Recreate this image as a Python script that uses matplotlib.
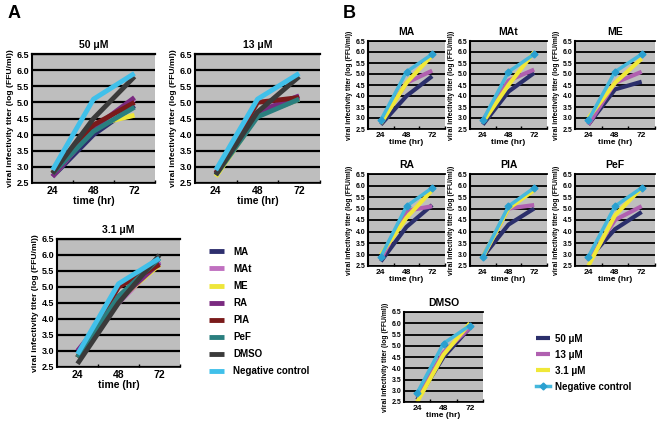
import numpy as np
import matplotlib.pyplot as plt
from matplotlib.ticker import FixedLocator

plt.rcParams['font.family'] = ['Liberation Sans', 'DejaVu Sans']
plt.rcParams['font.weight'] = 'bold'
plt.rcParams['axes.labelweight'] = 'bold'

times = ['24', '48', '72']
ylabel = 'viral infectivity titer (log (FFU/ml))'

# panel A: one chart per concentration, one line per compound
compounds = ['MA', 'MAt', 'ME', 'RA', 'PIA', 'PeF', 'DMSO', 'Negative control']
conc_titles = ['50 \u03bcM', '13 \u03bcM', '3.1 \u03bcM']
a_50 = [[2.7, 4.0, 4.9], [2.7, 4.2, 5.1], [2.8, 4.3, 4.6], [2.7, 4.2, 5.15],
        [2.8, 4.3, 5.0], [2.8, 4.1, 4.85], [2.8, 4.5, 5.8], [2.9, 5.1, 5.9]]
a_13 = [[2.8, 4.6, 5.1], [2.9, 4.7, 5.2], [2.7, 4.6, 5.1], [2.8, 4.7, 5.2],
        [2.8, 5.0, 5.15], [2.75, 4.55, 5.1], [2.75, 4.7, 5.8], [2.9, 5.1, 5.9]]
a_3 = [[2.8, 4.7, 5.8], [3.0, 4.5, 5.8], [2.8, 4.6, 5.7], [3.0, 4.6, 5.75],
       [2.8, 5.0, 5.7], [2.8, 4.7, 5.9], [2.6, 4.5, 6.0], [2.9, 5.1, 5.9]]
comp_colors = ['#2e2f6e', '#c070c0', '#eee63a', '#7a2a80', '#7a1a1a', '#2a7f7f', '#3a3a3a', '#40c0ea']

# panel B: one chart per compound, one line per concentration
b_titles = ['MA', 'MAt', 'ME', 'RA', 'PIA', 'PeF', 'DMSO']
b_series = ['50 \u03bcM', '13 \u03bcM', '3.1 \u03bcM', 'Negative control']
b_50 = [[2.7, 4.0, 4.9], [2.7, 4.2, 5.05], [2.7, 4.3, 4.65], [2.7, 4.2, 5.15],
        [2.9, 4.3, 5.0], [2.8, 4.1, 4.85], [2.6, 4.5, 5.8]]
b_13 = [[2.8, 4.6, 5.15], [2.9, 4.7, 5.2], [2.7, 4.6, 5.1], [2.8, 4.9, 5.1],
        [2.9, 5.0, 5.15], [2.7, 4.5, 5.1], [2.7, 4.7, 5.8]]
b_3 = [[2.75, 4.6, 5.85], [2.8, 4.5, 6.0], [3.0, 4.6, 5.7], [3.0, 4.6, 5.8],
       [2.9, 5.0, 5.8], [2.5, 4.7, 5.9], [2.5, 4.6, 6.0]]
b_neg = [2.9, 5.1, 5.9]
conc_colors = ['#2b2f6b', '#b060b0', '#f0e838', '#45b8dc']

W, H = 661, 421
fig = plt.figure(figsize=(W / 100, H / 100), dpi=100)


def px_axes(l, t, r, b):
    return fig.add_axes([l / W, 1 - b / H, (r - l) / W, (b - t) / H])


def style(ax, title, fs, yfs, tfs, lw_grid):
    ax.set_facecolor('#bebebe')
    ax.set_xlim(-0.5, 2.5)
    ax.set_ylim(2.5, 6.5)
    ax.set_yticks(np.arange(2.5, 6.51, 0.5))
    ax.set_yticklabels(['%.1f' % v for v in np.arange(2.5, 6.51, 0.5)], fontsize=fs)
    ax.set_xticks(range(3))
    ax.set_xticklabels(times, fontsize=fs + 1)
    ax.xaxis.set_minor_locator(FixedLocator([0.5, 1.5, 2.5]))
    ax.tick_params(axis='x', which='major', length=0, pad=2)
    ax.tick_params(axis='x', which='minor', length=2, width=1, direction='in')
    ax.tick_params(axis='y', length=0, pad=2)
    ax.grid(axis='y', color='black', lw=lw_grid)
    ax.set_axisbelow(True)
    ax.spines['right'].set_visible(False)
    ax.spines['top'].set_linewidth(lw_grid)
    ax.spines['left'].set_linewidth(1.5)
    ax.spines['bottom'].set_linewidth(1.2)
    ax.set_title(title, fontsize=tfs, fontweight='bold', pad=4)
    ax.set_xlabel('time (hr)', fontsize=fs + 1, labelpad=0)
    ax.set_ylabel(ylabel, fontsize=yfs, labelpad=2)


# panel A
a_pos = [(32, 54, 155, 183), (195, 54, 320, 183), (57, 239, 180, 367)]
lines_a = []
for pos, title, data in zip(a_pos, conc_titles, [a_50, a_13, a_3]):
    ax = px_axes(*pos)
    style(ax, title, 6.5, 6.1, 7.5, 1.6)
    lines_a = []
    for vals, c, name in zip(data, comp_colors, compounds):
        ln, = ax.plot(range(3), vals, color=c, lw=3.5, label=name, solid_capstyle='butt')
        lines_a.append(ln)
fig.legend(lines_a, compounds, loc='upper left', bbox_to_anchor=(200 / W, 1 - 238 / H),
           frameon=False, fontsize=7, labelspacing=0.73, handlelength=1.6, handletextpad=0.9)

# panel B
b_pos = [(368, 41, 445, 129), (470, 41, 547, 129), (575, 41, 655, 129),
         (368, 174, 445, 266), (470, 174, 547, 266), (575, 174, 655, 266),
         (404, 312, 483, 402)]
lines_b = []
for i, (pos, title) in enumerate(zip(b_pos, b_titles)):
    ax = px_axes(*pos)
    style(ax, title, 5, 4.9, 7.5, 1.3)
    lines_b = []
    for vals, c in zip([b_50[i], b_13[i], b_3[i]], conc_colors[:3]):
        ln, = ax.plot(range(3), vals, color=c, lw=3, solid_capstyle='butt')
        lines_b.append(ln)
    ln, = ax.plot(range(3), b_neg, color=conc_colors[3], lw=2.5, marker='D', ms=3.5,
                  mfc='#2aa0d0', mec='#2aa0d0')
    lines_b.append(ln)
fig.legend(lines_b, b_series, loc='upper left', bbox_to_anchor=(527 / W, 1 - 325 / H),
           frameon=False, fontsize=7, labelspacing=0.62, handlelength=1.5, handletextpad=0.5)

fig.text(8 / W, 1 - 14 / H, 'A', fontsize=13, fontweight='bold', va='center')
fig.text(343 / W, 1 - 14 / H, 'B', fontsize=13, fontweight='bold', va='center')

fig.savefig('out.png', dpi=100)
